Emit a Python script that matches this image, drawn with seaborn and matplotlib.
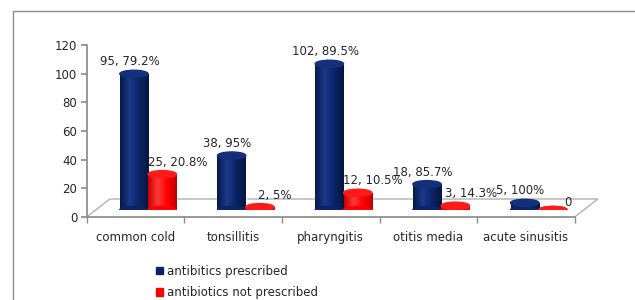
import matplotlib
matplotlib.use('Agg')
import matplotlib.pyplot as plt
from matplotlib.patches import Ellipse, Patch
from matplotlib.lines import Line2D
from matplotlib.colors import LinearSegmentedColormap
import numpy as np
import seaborn as sns
import pandas as pd

# data
conditions = ['common cold', 'tonsillitis', 'pharyngitis', 'otitis media', 'acute sinusitis']
prescribed = [95, 38, 102, 18, 5]
not_prescribed = [25, 2, 12, 3, 0]
prescribed_lbl = ['95, 79.2%', '38, 95%', '102, 89.5%', '18, 85.7%', '5, 100%']
not_prescribed_lbl = ['25, 20.8%', '2, 5%', '12, 10.5%', '3, 14.3%', '0']
series = ['antibitics prescribed', 'antibiotics not prescribed']
colors = {'antibitics prescribed': '#0b2466', 'antibiotics not prescribed': '#ff0000'}
cap_colors = {'antibitics prescribed': '#15307a', 'antibiotics not prescribed': '#ff1a1a'}
shade = {
    'antibitics prescribed': ['#06184a', '#1b3a8a', '#0b2466', '#051640'],
    'antibiotics not prescribed': ['#c80000', '#ff3a3a', '#ff0000', '#c00000'],
}

df = pd.DataFrame({
    'condition': conditions * 2,
    'group': [series[0]] * 5 + [series[1]] * 5,
    'count': prescribed + not_prescribed,
})

sns.set_theme(style='white')
plt.rcParams['font.family'] = ['DejaVu Sans']
FS = 8.5
GRAY = '#8c8c8c'

W, H = 635, 300
fig = plt.figure(figsize=(W / 100, H / 100), dpi=100)

def px(x0, y0, x1, y1):
    # pixel box (top-left origin) -> figure fraction rect
    return [x0 / W, 1 - y1 / H, (x1 - x0) / W, (y1 - y0) / H]

# outer frame (only top and left visible in the crop)
fig.add_artist(Line2D([13 / W, 13 / W, 1], [0, 1 - 11 / H, 1 - 11 / H], color=GRAY, lw=1))

# front floor / category axis
ax_x = fig.add_axes(px(86.75, 199, 574.75, 217))
ax_x.set_zorder(1)
ax_x.set_xlim(-0.5, 4.5)
ax_x.set_ylim(0, 1)
for s in ['top', 'left', 'right']:
    ax_x.spines[s].set_visible(False)
ax_x.spines['bottom'].set_color(GRAY)
ax_x.set_yticks([])
ax_x.set_xticks(range(len(conditions)))
ax_x.set_xticklabels(conditions, fontsize=FS)
ax_x.set_xticks([i - 0.5 for i in range(len(conditions) + 1)], minor=True)
ax_x.tick_params(axis='x', which='major', length=0, pad=10)
ax_x.tick_params(axis='x', which='minor', length=4, color=GRAY, bottom=True)
d = 23 / 97.6
ax_x.plot([-0.5, -0.5 + d, 4.5 + d, 4.5], [0, 1, 1, 0], color='#b0b0b0', lw=1, clip_on=False)
ax_x.patch.set_alpha(0)

# value axis
ax_y = fig.add_axes(px(87, 45, 88, 217))
ax_y.set_ylim(0, 120)
ax_y.set_yticks(range(0, 121, 20))
ax_y.set_xticks([])
for s in ['top', 'bottom', 'right']:
    ax_y.spines[s].set_visible(False)
ax_y.spines['left'].set_color(GRAY)
ax_y.tick_params(axis='y', left=True, length=4, color=GRAY, labelsize=FS, pad=3)
ax_y.patch.set_alpha(0)

# bars
ax = fig.add_axes(px(99.25, 38, 587.75, 210))
ax.set_zorder(2)
sns.barplot(data=df, x='condition', y='count', hue='group', order=conditions,
            hue_order=series, palette=colors, width=0.58, saturation=1,
            legend=False, ax=ax)
ax.set_xlim(-0.5, 4.5)
ax.set_ylim(0, 120)
ax.axis('off')
ax.patch.set_alpha(0)

bars = list(ax.patches)
grad = np.linspace(0, 1, 64).reshape(1, -1)
cap_h = 5.0
for p in bars:
    fc = p.get_facecolor()
    name = series[0] if fc[2] > fc[0] else series[1]
    x0, w, top = p.get_x(), p.get_width(), p.get_height()
    cx = x0 + w / 2
    # horizontal shading to give a cylinder look
    if top > 0:
        cmap = LinearSegmentedColormap.from_list(name, shade[name])
        im = ax.imshow(grad, cmap=cmap, aspect='auto', extent=(x0, x0 + w, 0, top),
                       zorder=2, interpolation='bicubic')
        im.set_clip_path(p)
    ax.add_patch(Ellipse((cx, 0), w, cap_h, color=shade[name][2], zorder=2))
    ax.add_patch(Ellipse((cx, top), w, cap_h, color=cap_colors[name], zorder=3))
ax.set_xlim(-0.5, 4.5)
ax.set_ylim(0, 120)

for p, t in zip(bars[:5], prescribed_lbl):
    ax.annotate(t, (p.get_x() + p.get_width() / 2, p.get_height()), xytext=(-3, 4),
                textcoords='offset points', ha='center', va='bottom', fontsize=FS,
                annotation_clip=False)
for p, t in zip(bars[5:10], not_prescribed_lbl):
    ax.annotate(t, (p.get_x() + p.get_width() / 2, p.get_height()), xytext=(11, 4 if t != '0' else 1),
                textcoords='offset points', ha='center', va='bottom', fontsize=FS,
                annotation_clip=False)

handles = [Patch(color=colors[s]) for s in series]
fig.legend(handles, series, loc='upper left', bbox_to_anchor=(150 / W, 1 - 259 / H),
           frameon=False, fontsize=FS, handlelength=0.6, handleheight=0.6,
           handletextpad=0.3, labelspacing=0.7, borderpad=0)

fig.savefig('out.png', dpi=100)
